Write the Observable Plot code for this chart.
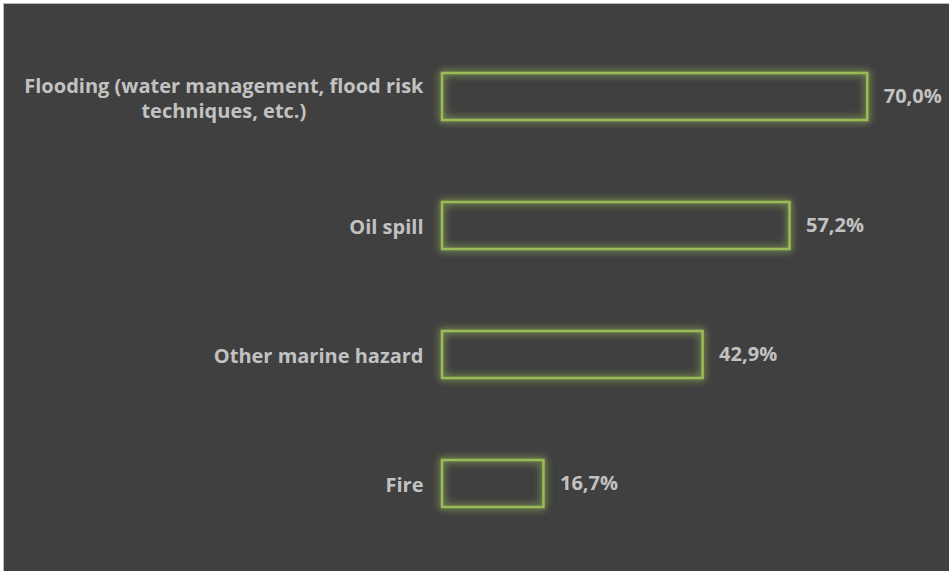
<!DOCTYPE html>
<html>
<head>
<meta charset="utf-8">
<script src="https://cdn.jsdelivr.net/npm/d3@7"></script>
<script src="https://cdn.jsdelivr.net/npm/@observablehq/plot@0.6"></script>
<style>
  html, body { margin: 0; padding: 0; background: #ffffff; }
  #wrap { width: 949px; height: 571px; position: relative; overflow: hidden; background: #fff; }
  #panel { position: absolute; left: 3px; top: 3px; width: 945px; height: 567px;
           border-left: 1px solid #b8b8b8; border-top: 1px solid #b8b8b8; background: #404040; }
  #panel svg { display: block; background: #404040; }
</style>
</head>
<body>
<div id="wrap"><div id="panel"></div></div>
<script>
const categories = [
  "Flooding (water management, flood risk\ntechniques, etc.)",
  "Oil spill",
  "Other marine hazard",
  "Fire"
];
const values = [70.0, 57.2, 42.9, 16.7];
const valueLabels = ["70,0%", "57,2%", "42,9%", "16,7%"];

const data = categories.map((c, i) => ({category: c, value: values[i], label: valueLabels[i]}));

const font = "'Open Sans', Lato, sans-serif";
const textColor = "#c2c2c2";
const green = "#9bbb59";

const chart = Plot.plot({
  width: 945,
  height: 567,
  marginLeft: 438,
  marginRight: 21,
  marginTop: 56,
  marginBottom: 51,
  style: {background: "#404040", fontFamily: font},
  x: {domain: [0, 80], axis: null},
  y: {domain: categories, axis: null, paddingInner: 0.636, paddingOuter: 0.1},
  marks: [
    Plot.barX(data, {x: "value", y: "category", fill: "none", stroke: green, strokeWidth: 2.5}),
    Plot.text(data, {x: 0, y: "category", text: "category", textAnchor: "end", dx: -19,
      fill: textColor, fontSize: 20, fontWeight: "bold", lineHeight: 1.25}),
    Plot.text(data, {x: "value", y: "category", text: "label", textAnchor: "start", dx: 16,
      fill: textColor, fontSize: 20, fontWeight: "bold"})
  ]
});

document.getElementById("panel").appendChild(chart);

// glow on bars
d3.select(chart).selectAll("g[aria-label='bar']")
  .style("filter", "drop-shadow(0 0 4px rgba(155,187,89,0.8)) drop-shadow(0 0 2px rgba(155,187,89,0.5))");

// center multi-line category labels relative to their longest line
d3.select(chart).selectAll("g[aria-label='text'] text").each(function() {
  const tspans = this.querySelectorAll("tspan");
  if (tspans.length > 1) {
    let L = 0;
    tspans.forEach(t => { L = Math.max(L, t.getComputedTextLength()); });
    this.setAttribute("text-anchor", "middle");
    tspans.forEach(t => t.setAttribute("x", -L / 2));
  }
});
</script>
</body>
</html>
